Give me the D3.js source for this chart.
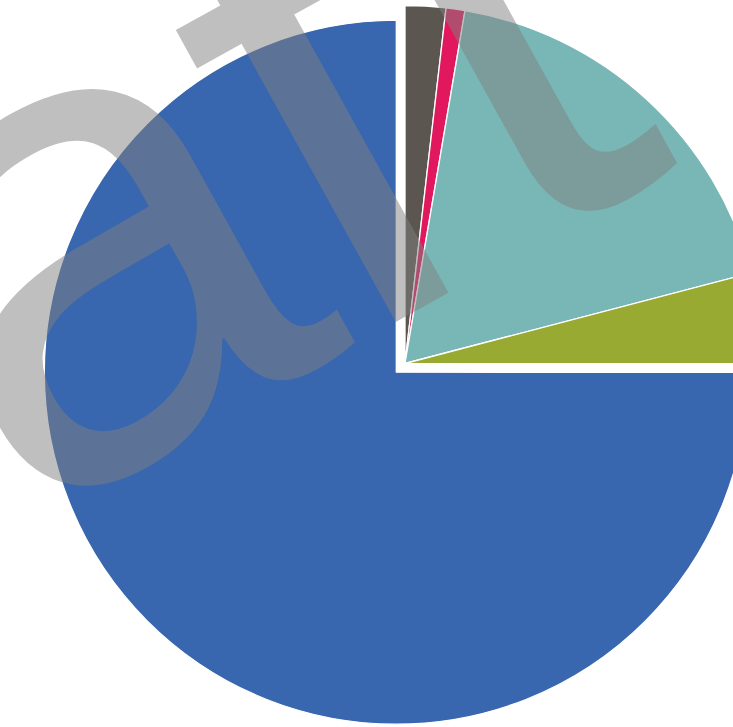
<!DOCTYPE html>
<html>
<head>
<meta charset="utf-8">
<script src="https://cdn.jsdelivr.net/npm/d3@7"></script>
<style>
  html, body { margin: 0; padding: 0; background: #ffffff; overflow: hidden; }
  svg { display: block; }
</style>
</head>
<body>
<svg id="chart" width="733" height="727"></svg>
<script>
// ---- data ----
const categories = ["Category 1", "Category 2", "Category 3", "Category 4", "Category 5"];
const values = [1.83, 0.85, 18.25, 4.08, 75.0];
const colors = ["#5b5650", "#e2185f", "#79b7b6", "#99aa33", "#3867af"];
const watermarkText = "draft";

// ---- layout ----
const W = 733, H = 727;
const cx = 405, cy = 363.5;
const radius = 358;
const explodedIndex = 4;
const explodeDist = 12.3;
const explodedRadius = 352;

const svg = d3.select("#chart");

const pie = d3.pie().sort(null).value(d => d.value);
const arcs = pie(categories.map((c, i) => ({ name: c, value: values[i], color: colors[i] })));

const arcGen = d3.arc().innerRadius(0);

const g = svg.append("g").attr("transform", `translate(${cx},${cy})`);

g.selectAll("path.slice")
  .data(arcs)
  .join("path")
  .attr("class", "slice")
  .attr("transform", (d, i) => {
    if (i !== explodedIndex) return null;
    const mid = (d.startAngle + d.endAngle) / 2;
    return `translate(${Math.sin(mid) * explodeDist},${-Math.cos(mid) * explodeDist})`;
  })
  .attr("d", (d, i) => arcGen.outerRadius(i === explodedIndex ? explodedRadius : radius)(d))
  .attr("fill", d => d.data.color)
  .attr("stroke", "#ffffff")
  .attr("stroke-width", 1.3)
  .attr("stroke-linejoin", "round");

// ---- watermark ----
svg.append("text")
  .attr("transform", "translate(-510,824) rotate(-29)")
  .attr("font-family", "'Liberation Sans', Arial, sans-serif")
  .attr("font-size", 685)
  .attr("dx", "0 0 0 -15 8")
  .attr("fill", "#808080")
  .attr("fill-opacity", 0.5)
  .text(watermarkText);
</script>
</body>
</html>
